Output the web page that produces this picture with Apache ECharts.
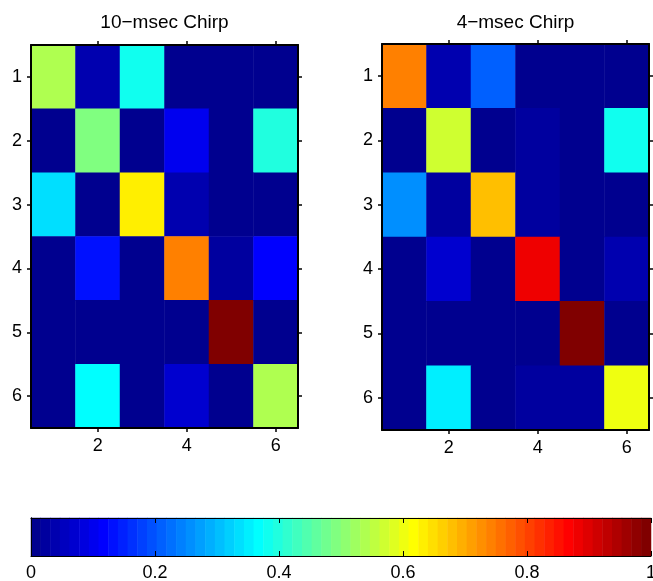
<!DOCTYPE html>
<html>
<head>
<meta charset="utf-8">
<script src="https://cdn.jsdelivr.net/npm/echarts@6/dist/echarts.min.js"></script>
<style>
  html, body { margin: 0; padding: 0; background: #fff; }
  #chart { width: 653px; height: 581px; }
</style>
</head>
<body>
<div id="chart"></div>
<script>
// Matrix row / column labels
const rowLabels = ['1', '2', '3', '4', '5', '6'];
const colLabels = ['1', '2', '3', '4', '5', '6'];

// Normalised response matrices, one row per array line
const chirp10 = [
  [0.54, 0.04, 0.38, 0.00, 0.00, 0.00],
  [0.00, 0.49, 0.00, 0.10, 0.00, 0.40],
  [0.34, 0.00, 0.63, 0.04, 0.00, 0.00],
  [0.00, 0.13, 0.00, 0.74, 0.02, 0.12],
  [0.00, 0.00, 0.00, 0.00, 1.00, 0.00],
  [0.00, 0.37, 0.00, 0.07, 0.00, 0.54]
];
const chirp4 = [
  [0.74, 0.04, 0.21, 0.00, 0.00, 0.00],
  [0.00, 0.57, 0.00, 0.02, 0.00, 0.38],
  [0.26, 0.02, 0.68, 0.02, 0.00, 0.00],
  [0.00, 0.07, 0.00, 0.88, 0.00, 0.04],
  [0.00, 0.00, 0.00, 0.00, 1.00, 0.00],
  [0.00, 0.35, 0.00, 0.02, 0.02, 0.60]
];

const titles = ['10\u2212msec Chirp', '4\u2212msec Chirp'];
const colorbarTicks = [0, 0.2, 0.4, 0.6, 0.8, 1];

// 64-step jet colour map
const NC = 64;
function jetColors(m) {
  const n = Math.ceil(m / 4);
  const u = [];
  for (let k = 1; k <= n; k++) u.push(k / n);
  for (let k = 1; k < n; k++) u.push(1);
  for (let k = n; k >= 1; k--) u.push(k / n);
  const r = new Array(m).fill(0), g = new Array(m).fill(0), b = new Array(m).fill(0);
  const off = Math.ceil(n / 2) - (m % 4 === 1 ? 1 : 0);
  for (let k = 0; k < u.length; k++) {
    const gi = off + k;          // 0-based
    const ri = gi + n;
    const bi = gi - n;
    if (gi >= 0 && gi < m) g[gi] = u[k];
    if (ri >= 0 && ri < m) r[ri] = u[k];
    if (bi >= 0 && bi < m) b[bi] = u[k];
  }
  const out = [];
  for (let i = 0; i < m; i++) {
    out.push('rgb(' + Math.round(r[i] * 255) + ',' + Math.round(g[i] * 255) + ',' + Math.round(b[i] * 255) + ')');
  }
  return out;
}
const jet = jetColors(NC);
const pieces = jet.map((c, k) => k === NC - 1
  ? { gte: k / NC, lte: 1, color: c }
  : { gte: k / NC, lt: (k + 1) / NC, color: c });

function toCells(mat) {
  const out = [];
  mat.forEach((row, r) => row.forEach((v, c) => out.push([c, r, v])));
  return out;
}
const rampCats = [];
const rampCells = [];
for (let k = 0; k < NC; k++) { rampCats.push(String(k)); rampCells.push([k, 0, (k + 0.5) / NC]); }

const FONT = 'Liberation Sans, Arial, Helvetica, sans-serif';
const everyOther = (i) => i % 2 === 1;

function matrixAxes(gi) {
  const line = { show: true, lineStyle: { color: '#000', width: 2 } };
  const tick = (interval) => ({ show: true, alignWithLabel: true, interval: interval, length: 4, inside: false, lineStyle: { color: '#000', width: 1.5 } });
  return {
    x: [
      { gridIndex: gi, type: 'category', data: colLabels, position: 'bottom', z: 10,
        axisLine: line, axisTick: tick(everyOther),
        axisLabel: { interval: everyOther, color: '#000', fontSize: 18, fontFamily: FONT, margin: 9 },
        splitLine: { show: false } },
      { gridIndex: gi, type: 'category', data: colLabels, position: 'top', z: 10,
        axisLine: line, axisTick: tick(everyOther), axisLabel: { show: false }, splitLine: { show: false } }
    ],
    y: [
      { gridIndex: gi, type: 'category', data: rowLabels, inverse: true, position: 'left', z: 10,
        axisLine: line, axisTick: tick(0),
        axisLabel: { interval: 0, color: '#000', fontSize: 18, fontFamily: FONT, margin: 9 },
        splitLine: { show: false } },
      { gridIndex: gi, type: 'category', data: rowLabels, inverse: true, position: 'right', z: 10,
        axisLine: line, axisTick: tick(0), axisLabel: { show: false }, splitLine: { show: false } }
    ]
  };
}
const a0 = matrixAxes(0), a1 = matrixAxes(1);

const barLine = { show: true, lineStyle: { color: '#000', width: 1 } };
const barTick = { show: true, inside: true, length: 5, lineStyle: { color: '#000', width: 1 } };

const option = {
  animation: false,
  backgroundColor: '#fff',
  grid: [
    { left: 31, top: 45, width: 267, height: 383, outerBoundsMode: 'none', containLabel: false },
    { left: 382, top: 44, width: 267, height: 386, outerBoundsMode: 'none', containLabel: false },
    { left: 31, top: 518, width: 620, height: 38, outerBoundsMode: 'none', containLabel: false }
  ],
  xAxis: [
    a0.x[0], a0.x[1], a1.x[0], a1.x[1],
    { gridIndex: 2, type: 'category', data: rampCats, show: false },
    { gridIndex: 2, type: 'value', min: 0, max: 1, interval: 0.2, position: 'bottom', z: 10,
      axisLine: barLine, axisTick: barTick,
      axisLabel: { color: '#000', fontSize: 18, fontFamily: FONT, margin: 8,
        formatter: (v) => { const t = colorbarTicks.find(c => Math.abs(c - v) < 1e-6); return t === undefined ? '' : String(t); } },
      splitLine: { show: false } },
    { gridIndex: 2, type: 'value', min: 0, max: 1, interval: 0.2, position: 'top', z: 10,
      axisLine: barLine, axisTick: barTick, axisLabel: { show: false }, splitLine: { show: false } }
  ],
  yAxis: [
    a0.y[0], a0.y[1], a1.y[0], a1.y[1],
    { gridIndex: 2, type: 'category', data: [''], position: 'left', z: 10,
      axisLine: barLine, axisTick: { show: false }, axisLabel: { show: false }, splitLine: { show: false } },
    { gridIndex: 2, type: 'category', data: [''], position: 'right', z: 10,
      axisLine: barLine, axisTick: { show: false }, axisLabel: { show: false }, splitLine: { show: false } }
  ],
  visualMap: {
    type: 'piecewise',
    show: false,
    dimension: 2,
    seriesIndex: [0, 1, 2],
    pieces: pieces
  },
  series: [
    { type: 'heatmap', xAxisIndex: 0, yAxisIndex: 0, data: toCells(chirp10), itemStyle: { borderWidth: 0 }, emphasis: { disabled: true } },
    { type: 'heatmap', xAxisIndex: 2, yAxisIndex: 2, data: toCells(chirp4), itemStyle: { borderWidth: 0 }, emphasis: { disabled: true } },
    { type: 'heatmap', xAxisIndex: 4, yAxisIndex: 4, data: rampCells, itemStyle: { borderWidth: 0 }, emphasis: { disabled: true } }
  ],
  graphic: [
    { type: 'text', x: 164.5, y: 23, style: { text: titles[0], font: '19px ' + FONT, fill: '#000', align: 'center', verticalAlign: 'middle' } },
    { type: 'text', x: 515.5, y: 23, style: { text: titles[1], font: '19px ' + FONT, fill: '#000', align: 'center', verticalAlign: 'middle' } }
  ]
};

const chart = echarts.init(document.getElementById('chart'), null, { renderer: 'canvas' });
chart.setOption(option);
</script>
</body>
</html>
